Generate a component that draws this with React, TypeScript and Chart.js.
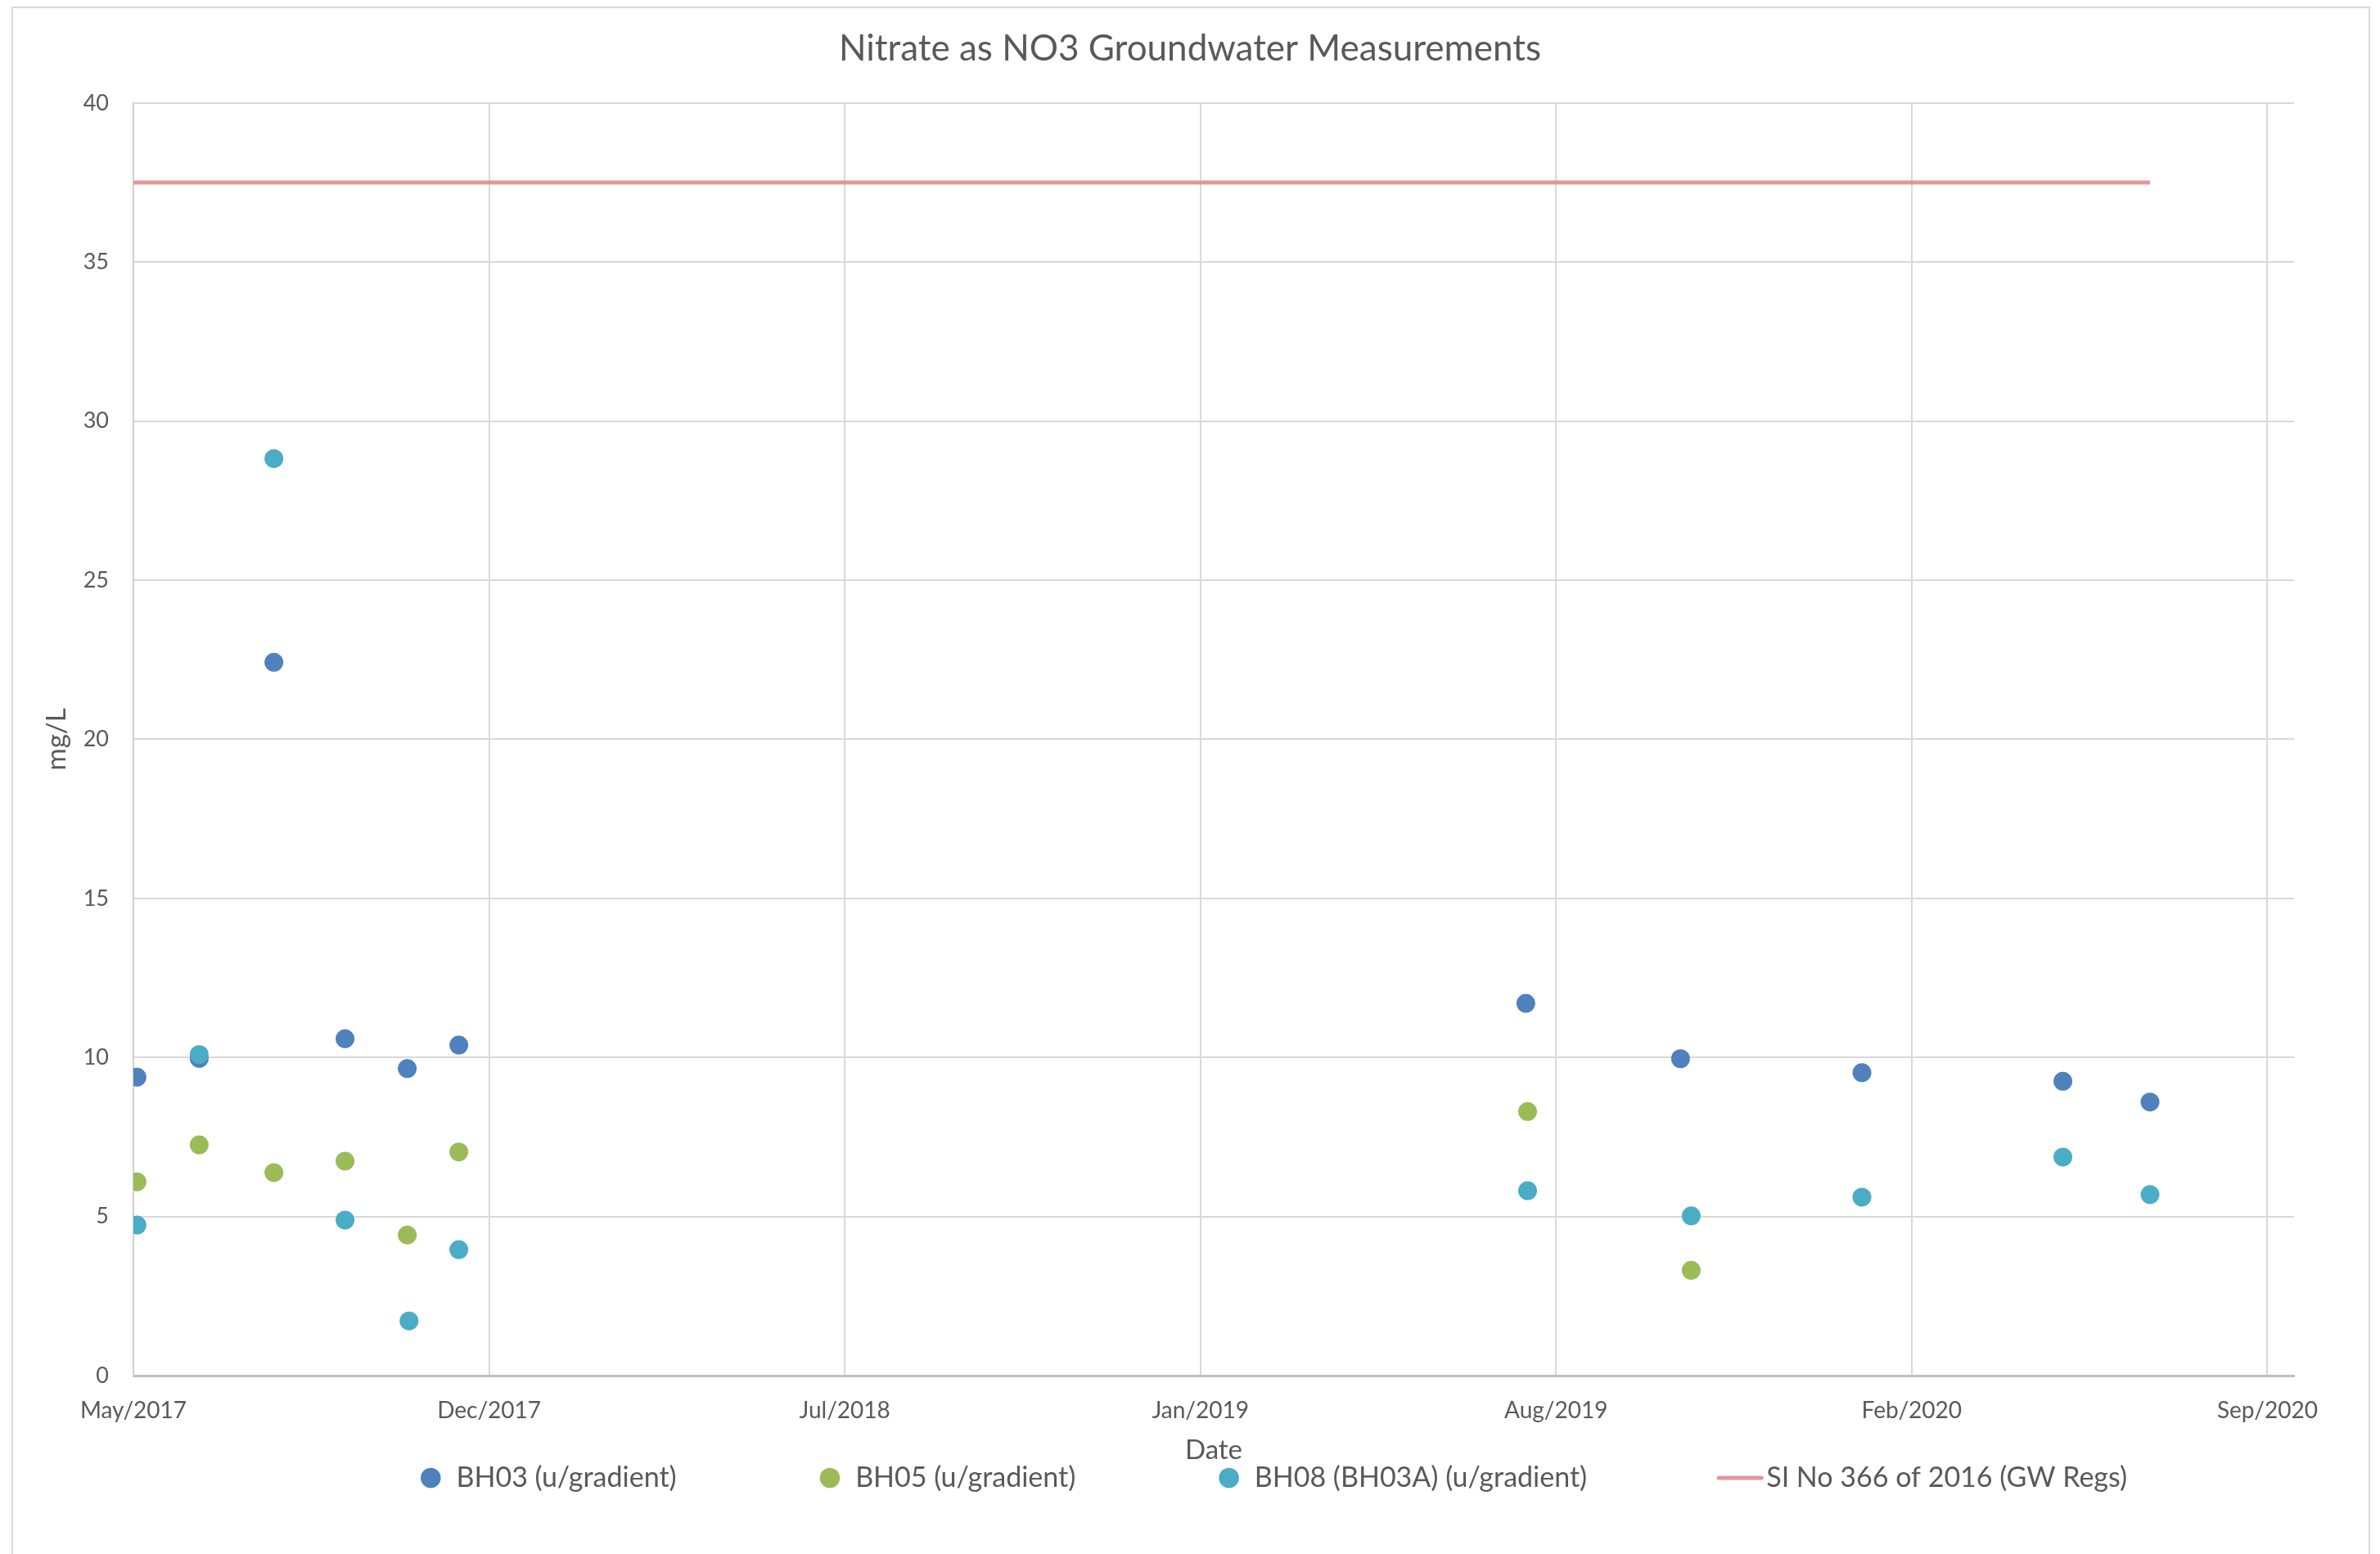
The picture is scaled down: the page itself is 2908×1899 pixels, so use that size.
import React, { useEffect, useRef } from 'react';
import { Chart, registerables } from 'chart.js';

Chart.register(...registerables);

// ---------------- data ----------------
const TITLE = 'Nitrate as NO3 Groundwater Measurements';
const X_TITLE = 'Date';
const Y_TITLE = 'mg/L';

const AXIS_START = '2017-05-28';
const AXIS_END = '2020-09-24';
const TICK_STEP_DAYS = 200;
const TICK_LABELS = ['May/2017', 'Dec/2017', 'Jul/2018', 'Jan/2019', 'Aug/2019', 'Feb/2020', 'Sep/2020'];

const Y_MIN = 0;
const Y_MAX = 40;
const Y_STEP = 5;

const SERIES_NAMES = [
  'BH03 (u/gradient)',
  'BH05 (u/gradient)',
  'BH08 (BH03A) (u/gradient)',
  'SI No 366 of 2016 (GW Regs)',
];

const BH03_DATES = [
  '2017-05-30', '2017-07-04', '2017-08-15', '2017-09-24', '2017-10-29', '2017-11-27',
  '2019-07-20', '2019-10-15', '2020-01-25', '2020-05-17', '2020-07-05',
];
const BH03_VALUES = [9.38, 9.97, 22.42, 10.59, 9.65, 10.39, 11.7, 9.96, 9.52, 9.25, 8.6];

const BH05_DATES = [
  '2017-05-30', '2017-07-04', '2017-08-15', '2017-09-24', '2017-10-29', '2017-11-27',
  '2019-07-21', '2019-10-21',
];
const BH05_VALUES = [6.09, 7.25, 6.38, 6.74, 4.42, 7.03, 8.3, 3.31];

const BH08_DATES = [
  '2017-05-30', '2017-07-04', '2017-08-15', '2017-09-24', '2017-10-30', '2017-11-27',
  '2019-07-21', '2019-10-21', '2020-01-25', '2020-05-17', '2020-07-05',
];
const BH08_VALUES = [4.73, 10.09, 28.82, 4.89, 1.72, 3.96, 5.81, 5.02, 5.61, 6.87, 5.69];

const LIMIT_DATES = ['2017-05-28', '2020-07-05'];
const LIMIT_VALUES = [37.5, 37.5];

// ---------------- styles ----------------
const FONT = 'Lato, "Liberation Sans", sans-serif';
const TEXT_COLOR = '#595959';
const GRID_COLOR = '#d9d9d9';
const COLORS = ['#4F81BD', '#9BBB59', '#4BACC6', '#E0979A'];

const dayOf = (s: string) =>
  Math.round((Date.parse(s + 'T00:00:00Z') - Date.parse(AXIS_START + 'T00:00:00Z')) / 86400000);

const toPoints = (dates: string[], values: number[]) =>
  dates.map((d, i) => ({ x: dayOf(d), y: values[i] }));

const TICK_DAYS = TICK_LABELS.map((_, i) => i * TICK_STEP_DAYS);

const LEGEND_FONT_SIZE = 34;
const LEGEND_GAP = 175;

const excelLegend = {
  id: 'excelLegend',
  afterDraw(chart: any) {
    const { ctx, chartArea } = chart;
    ctx.save();
    ctx.font = `${LEGEND_FONT_SIZE}px ${FONT}`;
    ctx.textBaseline = 'middle';
    ctx.textAlign = 'left';
    const y = chartArea.bottom + 125;
    let x = chartArea.left + 351;
    chart.data.datasets.forEach((ds: any) => {
      const isLine = !!ds.showLine;
      let textX: number;
      if (isLine) {
        ctx.strokeStyle = ds.borderColor;
        ctx.lineWidth = 5;
        ctx.lineCap = 'round';
        ctx.beginPath();
        ctx.moveTo(x - 14, y);
        ctx.lineTo(x + 38, y);
        ctx.stroke();
        textX = x + 44;
      } else {
        ctx.fillStyle = ds.backgroundColor;
        ctx.beginPath();
        ctx.arc(x + 12.3, y, 12.3, 0, Math.PI * 2);
        ctx.fill();
        textX = x + 43.5;
      }
      ctx.fillStyle = TEXT_COLOR;
      ctx.fillText(ds.label, textX, y);
      x = textX + ctx.measureText(ds.label).width + LEGEND_GAP;
    });
    ctx.restore();
  },
};

export default function App() {
  const canvasRef = useRef<HTMLCanvasElement | null>(null);

  useEffect(() => {
    if (!canvasRef.current) return;
    const scatterSet = (idx: number, dates: string[], values: number[], order: number) => ({
      label: SERIES_NAMES[idx],
      data: toPoints(dates, values),
      backgroundColor: COLORS[idx],
      borderColor: COLORS[idx],
      pointRadius: 11.5,
      pointBorderWidth: 0,
      pointHoverRadius: 11.5,
      showLine: false,
      order,
    });

    const chart = new Chart(canvasRef.current, {
      type: 'scatter',
      data: {
        datasets: [
          scatterSet(0, BH03_DATES, BH03_VALUES, 3),
          scatterSet(1, BH05_DATES, BH05_VALUES, 2),
          scatterSet(2, BH08_DATES, BH08_VALUES, 1),
          {
            label: SERIES_NAMES[3],
            data: toPoints(LIMIT_DATES, LIMIT_VALUES),
            borderColor: COLORS[3],
            backgroundColor: COLORS[3],
            borderWidth: 5,
            pointRadius: 0,
            pointHoverRadius: 0,
            showLine: true,
            order: 0,
          } as any,
        ],
      },
      options: {
        responsive: false,
        animation: false,
        devicePixelRatio: 1,
        events: [],
        layout: { padding: { left: 14, right: 14, top: 10, bottom: 107 } },
        plugins: {
          legend: { display: false },
          tooltip: { enabled: false },
          title: {
            display: true,
            text: TITLE,
            color: TEXT_COLOR,
            font: { family: FONT, size: 44, weight: 'normal' },
            padding: { top: 23, bottom: 40 },
          },
        },
        scales: {
          x: {
            type: 'linear',
            position: 'bottom',
            min: 0,
            max: dayOf(AXIS_END),
            afterBuildTicks: (s: any) => {
              s.ticks = TICK_DAYS.map((v) => ({ value: v }));
            },
            ticks: {
              autoSkip: false,
              maxRotation: 0,
              minRotation: 0,
              color: TEXT_COLOR,
              font: { family: FONT, size: 28 },
              padding: 26,
              callback: (_v: any, i: number) => TICK_LABELS[i],
            },
            grid: { color: GRID_COLOR, lineWidth: 2, drawTicks: false },
            border: { color: '#bfbfbf', width: 3 },
            title: {
              display: true,
              text: X_TITLE,
              color: TEXT_COLOR,
              font: { family: FONT, size: 33 },
              padding: { top: 0, bottom: 0 },
            },
            afterFit: (s: any) => {
              s.height = 111;
            },
          },
          y: {
            type: 'linear',
            position: 'left',
            min: Y_MIN,
            max: Y_MAX,
            ticks: {
              stepSize: Y_STEP,
              color: TEXT_COLOR,
              font: { family: FONT, size: 27 },
              padding: 30,
            },
            grid: { color: GRID_COLOR, lineWidth: 2, drawTicks: false },
            border: { color: '#d0d0d0', width: 2 },
            title: {
              display: true,
              text: Y_TITLE,
              color: TEXT_COLOR,
              font: { family: FONT, size: 33 },
              padding: { top: 36, bottom: 0 },
            },
            afterFit: (s: any) => {
              s.width = 149;
            },
          },
          y2: {
            type: 'linear',
            position: 'right',
            display: true,
            grid: { display: false },
            ticks: { display: false },
            border: { display: false },
            afterFit: (s: any) => {
              s.width = 91;
            },
          },
        },
      } as any,
      plugins: [excelLegend],
    });
    return () => chart.destroy();
  }, []);

  return (
    <div style={{ position: 'absolute', left: 0, top: 0, width: 2908, height: 1899, background: '#ffffff', overflow: 'hidden' }}>
      <div
        style={{
          position: 'absolute',
          left: 14,
          top: 8,
          width: 2882,
          height: 1920,
          border: '2px solid #d9d9d9',
          boxSizing: 'border-box',
        }}
      />
      <canvas
        ref={canvasRef}
        width={2908}
        height={1899}
        style={{ position: 'absolute', left: 0, top: 0, width: 2908, height: 1899 }}
      />
    </div>
  );
}
